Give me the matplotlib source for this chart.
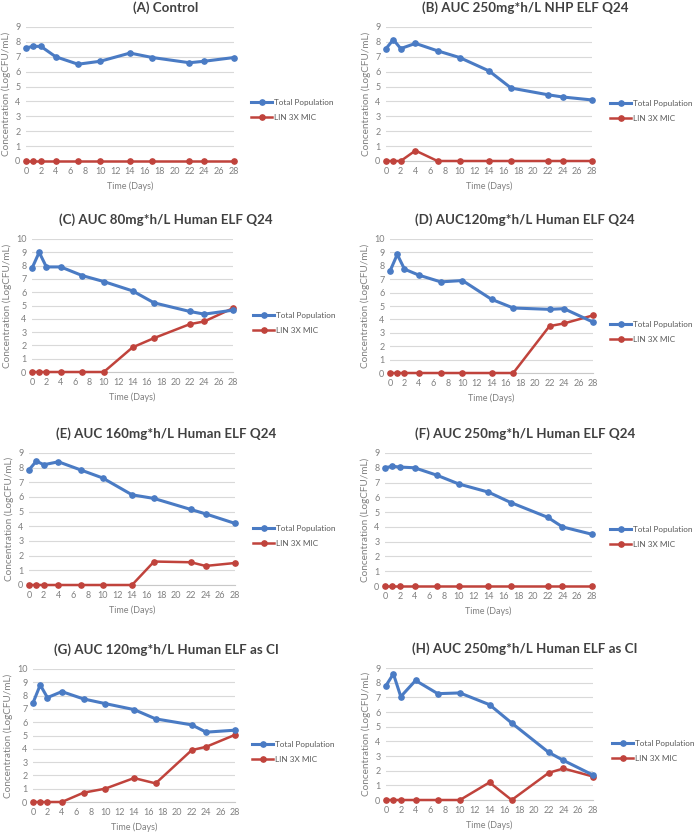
import matplotlib.pyplot as plt
import matplotlib.lines as mlines

days = [0, 1, 2, 4, 7, 10, 14, 17, 22, 24, 28]
xticks = list(range(0, 29, 2))

titles = [
    '(A) Control',
    '(B) AUC 250mg*h/L NHP ELF Q24',
    '(C) AUC 80mg*h/L Human ELF Q24',
    '(D) AUC120mg*h/L Human ELF Q24',
    '(E) AUC 160mg*h/L Human ELF Q24',
    '(F) AUC 250mg*h/L Human ELF Q24',
    '(G) AUC 120mg*h/L Human ELF as CI',
    '(H) AUC 250mg*h/L Human ELF as CI',
]

total_a = [7.6, 7.7, 7.7, 7.0, 6.5, 6.7, 7.25, 6.95, 6.6, 6.7, 6.95]
lin_a = [0, 0, 0, 0, 0, 0, 0, 0, 0, 0, 0]
total_b = [7.55, 8.15, 7.55, 7.9, 7.4, 6.95, 6.05, 4.9, 4.45, 4.3, 4.1]
lin_b = [0, 0, 0, 0.7, 0, 0, 0, 0, 0, 0, 0]
total_c = [7.8, 9.0, 7.9, 7.9, 7.25, 6.8, 6.1, 5.2, 4.55, 4.35, 4.65]
lin_c = [0, 0, 0, 0, 0, 0, 1.85, 2.55, 3.6, 3.8, 4.8]
total_d = [7.6, 8.85, 7.75, 7.3, 6.8, 6.9, 5.5, 4.85, 4.75, 4.8, 3.8]
lin_d = [0, 0, 0, 0, 0, 0, 0, 0, 3.5, 3.7, 4.3]
total_e = [7.85, 8.45, 8.2, 8.4, 7.85, 7.3, 6.15, 5.9, 5.15, 4.85, 4.2]
lin_e = [0, 0, 0, 0, 0, 0, 0, 1.6, 1.55, 1.3, 1.5]
total_f = [8.0, 8.1, 8.05, 8.0, 7.5, 6.9, 6.35, 5.65, 4.65, 4.0, 3.5]
lin_f = [0, 0, 0, 0, 0, 0, 0, 0, 0, 0, 0]
total_g = [7.45, 8.8, 7.85, 8.3, 7.75, 7.4, 6.95, 6.25, 5.8, 5.25, 5.4]
lin_g = [0, 0, 0, 0, 0.7, 1.0, 1.8, 1.4, 3.9, 4.15, 5.05]
total_h = [7.8, 8.6, 7.05, 8.15, 7.25, 7.3, 6.5, 5.25, 3.25, 2.7, 1.7]
lin_h = [0, 0, 0, 0, 0, 0, 1.2, 0, 1.85, 2.15, 1.6]

totals = [total_a, total_b, total_c, total_d, total_e, total_f, total_g, total_h]
lins = [lin_a, lin_b, lin_c, lin_d, lin_e, lin_f, lin_g, lin_h]
ymaxes = [9, 9, 10, 10, 9, 9, 10, 9]

W, H = 696, 835
# axes boxes in pixels: left, top, right, bottom
boxes = [
    (26, 27, 234, 161), (386, 27, 592, 161),
    (32, 239, 233, 372), (390, 239, 593, 373),
    (29, 453, 235, 585), (385, 453, 592, 586),
    (33, 669, 235, 802), (386, 668, 593, 800),
]
# legend anchor (line start x, middle y) in pixels
legpos = [(251, 110), (610, 111), (253, 323), (610, 332),
          (253, 536), (610, 537), (252, 752), (612, 751)]

plt.rcParams['font.family'] = ['Lato', 'DejaVu Sans']
blue = '#4A7BC4'
red = '#C0433C'
grey = '#808080'

fig = plt.figure(figsize=(W / 100, H / 100), dpi=100)

for i in range(8):
    l, t, r, b = boxes[i]
    ax = fig.add_axes([l / W, 1 - b / H, (r - l) / W, (b - t) / H])
    ax.plot(days, totals[i], color=blue, lw=2.2, marker='o', ms=3.8, clip_on=False, zorder=4)
    ax.plot(days, lins[i], color=red, lw=1.8, marker='o', ms=3.8, clip_on=False, zorder=3)
    ax.set_xlim(0, 28)
    ax.set_ylim(0, ymaxes[i])
    ax.set_xticks(xticks)
    ax.set_yticks(range(0, ymaxes[i] + 1))
    ax.grid(axis='y', color='#D9D9D9', lw=0.8)
    ax.set_axisbelow(True)
    for s in ['top', 'right', 'left']:
        ax.spines[s].set_visible(False)
    ax.spines['bottom'].set_color('#C8C8C8')
    ax.spines['bottom'].set_linewidth(0.8)
    ax.tick_params(length=0, labelsize=6.5, colors=grey, pad=4)
    ax.set_xlabel('Time (Days)', fontsize=6.5, color=grey, labelpad=4)
    ax.set_ylabel('Concentration (LogCFU/mL)', fontsize=7.2, color=grey, labelpad=3)

    cx = 166 if i % 2 == 0 else 525
    fig.text(cx / W, 1 - (t - 19) / H, titles[i], ha='center', va='center',
             fontsize=9.6, fontweight='bold', color='#404040')

    h1 = mlines.Line2D([], [], color=blue, lw=2.2, marker='o', ms=3.8)
    h2 = mlines.Line2D([], [], color=red, lw=1.8, marker='o', ms=3.8)
    lx, ly = legpos[i]
    ax.legend([h1, h2], ['Total Population', 'LIN 3X MIC'], loc='center left',
              bbox_to_anchor=(lx / W, 1 - ly / H), bbox_transform=fig.transFigure,
              frameon=False, fontsize=5.9, labelcolor='#595959', borderpad=0,
              borderaxespad=0, handlelength=2.6, handletextpad=0.2,
              labelspacing=1.0, numpoints=1)

fig.savefig('out.png', dpi=100, facecolor='white')
